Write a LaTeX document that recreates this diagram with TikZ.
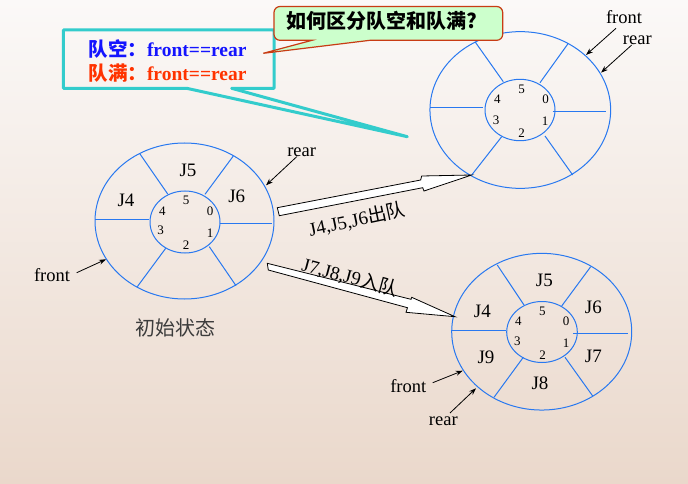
\documentclass[tikz,border=0pt]{standalone}
\usepackage{fontspec}
\setmainfont{Liberation Serif}
\newfontfamily\cjk{Noto Sans CJK SC}
\usetikzlibrary{shapes.geometric,arrows.meta}
\definecolor{qblue}{RGB}{40,120,240}
\definecolor{qcyan}{RGB}{51,204,204}
\definecolor{qgreen}{RGB}{204,255,204}
\definecolor{qgborder}{RGB}{200,60,20}
\definecolor{qbluetxt}{RGB}{20,20,255}
\definecolor{qredtxt}{RGB}{255,51,0}
\definecolor{bgtop}{RGB}{251,249,248}
\definecolor{bgmid}{RGB}{245,238,234}
\definecolor{bgbot}{RGB}{234,216,203}
\definecolor{capgray}{RGB}{60,60,60}
\begin{document}
\begin{tikzpicture}[x=1pt,y=-1pt,
  ring/.style={draw=qblue,line width=1pt,ellipse,inner sep=0pt},
  spoke/.style={draw=qblue,line width=1pt},
  jlab/.style={font=\fontsize{19}{19}\selectfont,inner sep=0pt},
  num/.style={font=\fontsize{13}{13}\selectfont,inner sep=0pt},
  ptrlab/.style={font=\fontsize{18.5}{18.5}\selectfont,inner sep=0pt},
  ptr/.style={draw=black,line width=0.8pt,-{Stealth[length=7pt,width=5pt]}},
  blockarrow/.style={draw=black,line width=0.8pt,fill=white,line join=miter},
  movelab/.style={font=\fontsize{19}{19}\selectfont,inner sep=0pt},
]
\useasboundingbox (0,0) rectangle (688,484);
\shade[top color=bgtop,middle color=bgmid,bottom color=bgbot] (0,0) rectangle (688,484);

% ---------- initial state ring ----------
\node[ring,minimum width=179pt,minimum height=156pt] (q1o) at (184.5,221) {};
\node[ring,minimum width=70pt,minimum height=62pt] (q1i) at (185,222) {};
\draw[spoke] (95,219.5) -- (149,219.5);
\draw[spoke] (220,223.5) -- (272,223.5);
\draw[spoke] (140,154) -- (167.7,194);
\draw[spoke] (233.3,156) -- (205,194.3);
\draw[spoke] (165.7,248.3) -- (137.3,286.7);
\draw[spoke] (209.3,246.7) -- (236,285.7);
\node[jlab] (a5) at (188,170) {J5};
\node[jlab] (a4) at (126,200.7) {J4};
\node[jlab] (a6) at (236.7,196) {J6};
\node[num] (an5) at (186,200) {5};
\node[num] (an4) at (162.3,211) {4};
\node[num] (an0) at (210,211) {0};
\node[num] (an3) at (160.7,230.7) {3};
\node[num] (an1) at (210,233.3) {1};
\node[num] (an2) at (186,245) {2};
\node[ptrlab] (af) at (52,275) {front};
\coordinate (afs) at (76.7,272.7);
\coordinate (aft) at (106,259.3);
\draw[ptr] (afs) -- (aft);
\node[ptrlab] (ar) at (301.7,152.7) {rear};
\coordinate (ars) at (296.7,156.7);
\coordinate (art) at (266,185.3);
\draw[ptr] (ars) -- (art);
\node[font=\cjk\fontsize{20}{20}\selectfont,text=capgray,inner sep=0pt] (cap) at (175,328) {初始状态};

% ---------- top-right ring (empty) ----------
\node[ring,minimum width=180.7pt,minimum height=156.7pt] (q2o) at (520.3,110) {};
\node[ring,minimum width=70pt,minimum height=61.4pt] (q2i) at (520,110) {};
\draw[spoke] (430,107.5) -- (483.3,107.5);
\draw[spoke] (552.7,111.5) -- (606,111.5);
\draw[spoke] (475,41.7) -- (503.3,81.7);
\draw[spoke] (568.3,43.3) -- (540,82.7);
\draw[spoke] (501.7,136.7) -- (471.7,175);
\draw[spoke] (545,136) -- (572.7,175);
\node[num] (bn5) at (521.7,89.3) {5};
\node[num] (bn4) at (497.3,99.3) {4};
\node[num] (bn0) at (545.7,99.3) {0};
\node[num] (bn3) at (496,120) {3};
\node[num] (bn1) at (545,121.7) {1};
\node[num] (bn2) at (521.7,132.7) {2};
\node[ptrlab] (bf) at (624,16.7) {front};
\coordinate (bfs) at (616,28.3);
\coordinate (bft) at (586,55);
\draw[ptr] (bfs) -- (bft);
\node[ptrlab] (br) at (637.3,40) {rear};
\coordinate (brs) at (631.7,45);
\coordinate (brt) at (601,72.7);
\draw[ptr] (brs) -- (brt);

% ---------- bottom-right ring (full) ----------
\node[ring,minimum width=180pt,minimum height=156.7pt] (q3o) at (541.7,331.7) {};
\node[ring,minimum width=70.6pt,minimum height=61pt] (q3i) at (542,332) {};
\draw[spoke] (450.7,330.5) -- (506,330.5);
\draw[spoke] (573.3,333.5) -- (628.3,333.5);
\draw[spoke] (497.3,265) -- (524,305);
\draw[spoke] (590.7,266.7) -- (561.7,306);
\draw[spoke] (523.3,357.3) -- (494,397.3);
\draw[spoke] (565,357.3) -- (592.7,396);
\node[jlab] (c5) at (544.3,280.7) {J5};
\node[jlab] (c4) at (482.3,311) {J4};
\node[jlab] (c6) at (593.3,307.7) {J6};
\node[jlab] (c9) at (486,357.3) {J9};
\node[jlab] (c7) at (593.3,356) {J7};
\node[jlab] (c8) at (540,383.3) {J8};
\node[num] (cn5) at (542.3,311) {5};
\node[num] (cn4) at (518.3,321.7) {4};
\node[num] (cn0) at (566,321.7) {0};
\node[num] (cn3) at (517.3,341.7) {3};
\node[num] (cn1) at (566,343.3) {1};
\node[num] (cn2) at (542.7,355) {2};
\node[ptrlab] (cf) at (408.3,386) {front};
\coordinate (cfs) at (432.7,382.7);
\coordinate (cft) at (462.7,370.7);
\draw[ptr] (cfs) -- (cft);
\node[ptrlab] (cr) at (443.3,421.7) {rear};
\coordinate (crs) at (450,413);
\coordinate (crt) at (476,388.3);
\draw[ptr] (crs) -- (crt);

% ---------- block arrows ----------
\draw[blockarrow] (277.3,207.7) -- (420.7,180) -- (421.7,176) -- (471.7,175)
  -- (424,191) -- (422.7,187.7) -- (279.3,215.7) -- cycle;
\node[movelab,rotate=12] (m1) at (357,219.5) {J4,J5,J6{\cjk 出队}};
\draw[blockarrow] (267.3,263.3) -- (411,299.3) -- (411.7,297.3) -- (455,316.7)
  -- (406,312.3) -- (407.5,307.7) -- (268.3,270) -- cycle;
\node[movelab,rotate=-15] (m2) at (350,277) {J7,J8,J9{\cjk 入队}};

% ---------- cyan callout ----------
\draw[draw=qcyan,line width=3pt,line join=round] (63.3,30) -- (274,30) -- (274,88.3)
  -- (231.7,88.3) -- (407.3,136.7) -- (186.7,88.3) -- (63.3,88.3) -- cycle;
\node[anchor=west,inner sep=0pt,text=qbluetxt,font=\fontsize{19.5}{19.5}\selectfont] (empty) at (88.3,49.5)
  {{\cjk\bfseries 队空：}{\bfseries front==rear}};
\node[anchor=west,inner sep=0pt,text=qredtxt,font=\fontsize{19.5}{19.5}\selectfont] (full) at (88.3,72.7)
  {{\cjk\bfseries 队满：}{\bfseries front==rear}};

% ---------- green callout ----------
\draw[draw=qgborder,fill=qgreen,line width=1.2pt] (370,40.3) -- (263.3,53.3) -- (312,40.3)
  {[rounded corners=6pt] -- (274,40.3) -- (274,6.5) -- (502.7,6.5) -- (502.7,40.3)} -- cycle;
\node[font=\cjk\bfseries\fontsize{20}{20}\selectfont,inner sep=0pt] (title) at (382,21) {如何区分队空和队满?};
\end{tikzpicture}
\end{document}
